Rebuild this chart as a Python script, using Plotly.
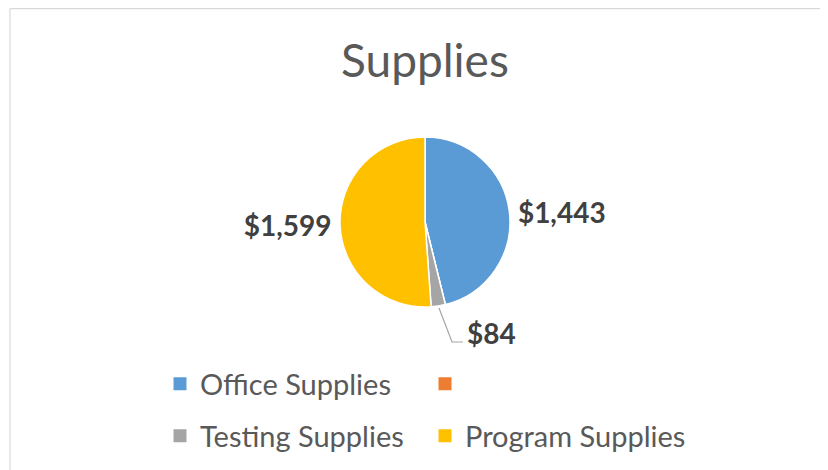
import plotly.graph_objects as go

W, H = 828, 470
OFF = 8  # page offset of the figure inside the browser window

categories = ["Office Supplies", " ", "Testing Supplies", "Program Supplies"]
values = [1443, 0, 84, 1599]
colors = ["#5B9BD5", "#ED7D31", "#A5A5A5", "#FFC000"]
label_templates = ["$%{value:,.0f}", "", "", "$%{value:,.0f}"]
title_text = "Supplies"

def px(x):
    return (x - OFF) / W

def py(y):
    return 1 - (y - OFF) / H

fig = go.Figure()

fig.add_trace(go.Pie(
    labels=categories,
    values=values,
    sort=False,
    direction="clockwise",
    rotation=0,
    marker=dict(colors=colors, line=dict(color="white", width=1.5)),
    texttemplate=label_templates,
    textposition="outside",
    textfont=dict(family="Lato", size=28, color="#404040", weight="bold"),
    domain=dict(x=[px(340), px(510)], y=[py(307), py(137)]),
    showlegend=False,
    hoverinfo="label+value",
))

# legend entries (two rows, two columns)
legend_rows = ["legend", "legend", "legend2", "legend2"]
for name, col, lg in zip(categories, colors, legend_rows):
    fig.add_trace(go.Scatter(
        x=[None], y=[None], mode="markers", name=name,
        marker=dict(symbol="square", size=13, color=col),
        legend=lg, showlegend=True, hoverinfo="skip",
    ))

# small-slice label with leader line
fig.add_annotation(
    x=px(465), y=py(333), xref="paper", yref="paper",
    text=f"${values[2]:,}", showarrow=False, xanchor="left", yanchor="middle",
    font=dict(family="Lato", size=28, color="#404040", weight="bold"),
)
fig.add_shape(type="path", xref="paper", yref="paper",
              path=f"M{px(463)},{py(342)} L{px(452)},{py(342)} L{px(439)},{py(308)}",
              line=dict(color="#A5A5A5", width=1.2))

# chart-area border
fig.add_shape(type="line", xref="paper", yref="paper",
              x0=px(10), x1=1.05, y0=py(8.6), y1=py(8.6),
              line=dict(color="#D9D9D9", width=1.2))
fig.add_shape(type="line", xref="paper", yref="paper",
              x0=px(10), x1=px(10), y0=-0.05, y1=py(8.6),
              line=dict(color="#D9D9D9", width=1.2))

fig.add_annotation(
    x=px(425), y=py(60), xref="paper", yref="paper",
    text=title_text, showarrow=False, xanchor="center", yanchor="middle",
    font=dict(family="Lato", size=46, color="#595959"),
)

legend_common = dict(
    orientation="h", xanchor="left", yanchor="middle",
    font=dict(family="Lato", size=29, color="#595959"),
    entrywidth=220, entrywidthmode="pixels",
    bgcolor="rgba(0,0,0,0)", itemclick=False, itemdoubleclick=False,
)

fig.update_layout(
    width=W, height=H,
    margin=dict(l=0, r=0, t=0, b=0),
    paper_bgcolor="white", plot_bgcolor="white",
    xaxis=dict(visible=False), yaxis=dict(visible=False),
    legend=dict(x=px(160), y=py(384), **legend_common),
    legend2=dict(x=px(160), y=py(436), **legend_common),
    hovermode=False,
)

fig.write_html("out.html")
